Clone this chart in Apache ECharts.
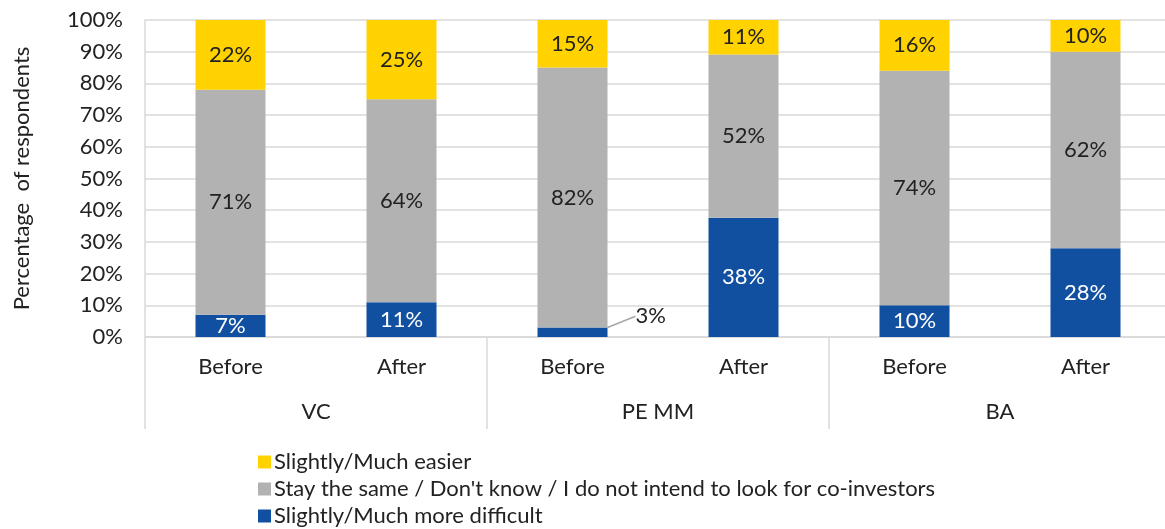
<!DOCTYPE html>
<html>
<head>
<meta charset="utf-8">
<script src="https://cdn.jsdelivr.net/npm/echarts@6/dist/echarts.min.js"></script>
<style>
  html, body { margin: 0; padding: 0; background: #fff; }
  #chart { width: 1165px; height: 529px; }
</style>
</head>
<body>
<div id="chart"></div>
<script>
// Categories
const phases = ['Before', 'After', 'Before', 'After', 'Before', 'After']
const groups = ['VC', 'PE MM', 'BA']
const yTicks = [0, 10, 20, 30, 40, 50, 60, 70, 80, 90, 100]

// Values (% of respondents) as printed in the bars
const harder = [7, 11, 3, 38, 10, 28]
const same = [71, 64, 82, 52, 74, 62]
const easier = [22, 25, 15, 11, 16, 10]

const names = {
  easier: 'Slightly/Much easier',
  same: 'Stay the same / Don\'t know / I do not intend to look for co-investors',
  harder: 'Slightly/Much more difficult',
}
const colors = { easier: '#FFD200', same: '#B2B2B2', harder: '#1150A0' }

const font = 'Lato'
const size = 22
const textColor = '#222'
const lineColor = '#D9D9D9'

// 100% stacked: each column is scaled so that it sums to 100
const totals = phases.map((_, i) => harder[i] + same[i] + easier[i])
const share = (arr) => arr.map((v, i) => ({ value: (v / totals[i]) * 100, raw: v }))

function serie(key, arr, labelColor) {
  return {
    name: names[key],
    type: 'bar',
    stack: 'total',
    barWidth: 70,
    itemStyle: { color: colors[key] },
    label: {
      show: true,
      position: 'inside',
      color: labelColor,
      fontFamily: font,
      fontSize: size,
      formatter: (p) => p.data.raw + '%',
    },
    data: share(arr),
  }
}

const harderSerie = serie('harder', harder, '#fff')
// the 3% bar is too thin: label sits outside with a small leader line
harderSerie.data[2] = {
  ...harderSerie.data[2],
  label: { position: 'right', color: textColor },
  labelLine: { show: true, lineStyle: { color: '#A6A6A6', width: 1.5 } },
}
harderSerie.labelLayout = (p) => (p.dataIndex === 2 ? { dx: 23, dy: -16 } : {})

const chart = echarts.init(document.getElementById('chart'))
chart.setOption({
  animation: false,
  textStyle: { fontFamily: font },
  grid: { left: 145, width: 1026, top: 20, bottom: 192, outerBoundsMode: 'none' },
  legend: {
    orient: 'vertical',
    left: 258,
    top: 451,
    padding: 0,
    itemWidth: 13,
    itemHeight: 13,
    itemGap: 5,
    icon: 'rect',
    data: [names.easier, names.same, names.harder],
    textStyle: { fontFamily: font, fontSize: size, color: textColor, padding: [0, 0, 0, -2] },
  },
  xAxis: [
    {
      type: 'category',
      data: phases,
      axisLine: { lineStyle: { color: lineColor, width: 1.5 } },
      axisTick: { show: false },
      axisLabel: { fontFamily: font, fontSize: size, color: textColor, margin: 19 },
    },
    {
      type: 'category',
      data: groups,
      position: 'bottom',
      axisLine: { show: false },
      axisTick: { show: true, length: 92, lineStyle: { color: lineColor, width: 1.5 } },
      axisLabel: { fontFamily: font, fontSize: size, color: textColor, margin: 64 },
    },
  ],
  yAxis: {
    type: 'value',
    min: yTicks[0],
    max: yTicks[yTicks.length - 1],
    interval: 10,
    name: 'Percentage  of respondents',
    nameLocation: 'middle',
    nameGap: 112,
    nameTextStyle: { fontFamily: font, fontSize: size, color: textColor },
    axisLine: { show: true, lineStyle: { color: lineColor, width: 1.5 } },
    axisLabel: { fontFamily: font, fontSize: size, color: textColor, margin: 22, formatter: '{value}%' },
    splitLine: { lineStyle: { color: lineColor, width: 1.5 } },
  },
  series: [harderSerie, serie('same', same, textColor), serie('easier', easier, textColor)],
})
</script>
</body>
</html>
